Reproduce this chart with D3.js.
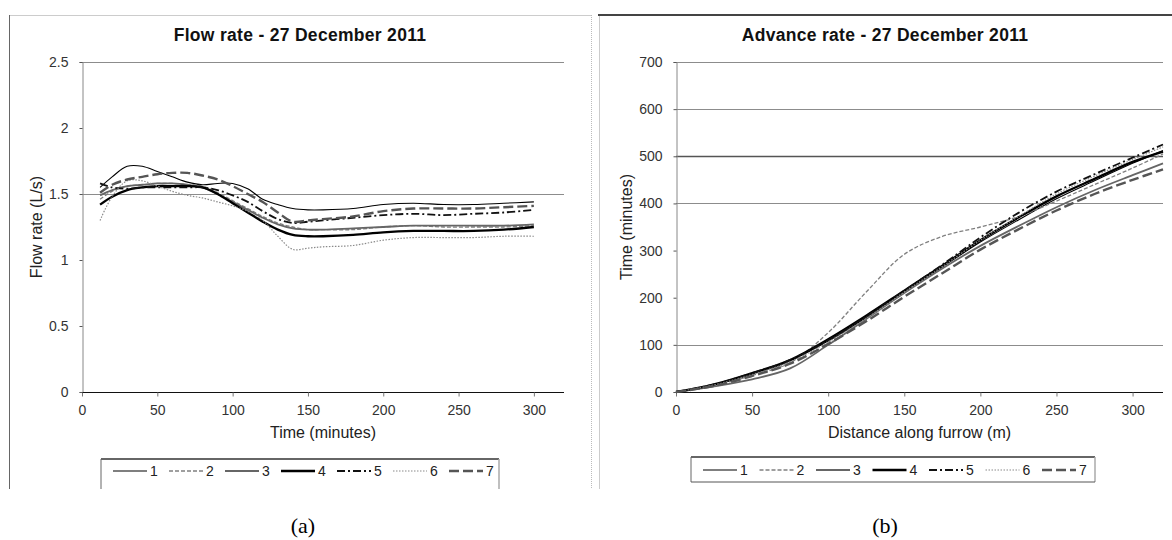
<!DOCTYPE html>
<html lang="en">
<head>
  <meta charset="UTF-8" />
  <title>Flow rate and Advance rate - 27 December 2011</title>
  <script src="https://d3js.org/d3.v7.min.js"></script>
  <style>
    html, body {
      margin: 0;
      padding: 0;
      width: 1172px;
      height: 540px;
      overflow: hidden;
      background: #ffffff;
      font-family: 'Liberation Sans', Arial, sans-serif;
    }
    svg { display: block; }
    .tick text { font-size: 14px; fill: #333; font-family: 'Liberation Sans', Arial, sans-serif; }
    .chart-title { font-size: 17.5px; font-weight: bold; fill: #111; text-anchor: middle; letter-spacing: 0.3px; }
    .axis-title { font-size: 16px; fill: #222; text-anchor: middle; }
    .legend-text { font-size: 14px; fill: #222; }
    .panel-label { font-family: 'Liberation Serif', 'Times New Roman', serif; font-size: 22px; fill: #000; text-anchor: middle; }
  </style>
</head>
<body>
<svg width="1172" height="540"></svg>
<script>
// ---- data: flow rate (a) ----
const flowTimes = [12, 20, 30, 40, 50, 60, 70, 80, 90, 100, 110, 120, 130, 140, 150, 160, 180, 200, 220, 240, 260, 280, 300];
const flow1 = [1.55, 1.63, 1.71, 1.71, 1.67, 1.63, 1.59, 1.57, 1.58, 1.58, 1.54, 1.46, 1.42, 1.39, 1.38, 1.38, 1.39, 1.42, 1.43, 1.42, 1.42, 1.43, 1.44];
const flow2 = [1.46, 1.52, 1.56, 1.57, 1.58, 1.58, 1.57, 1.56, 1.51, 1.45, 1.39, 1.33, 1.28, 1.25, 1.23, 1.23, 1.23, 1.25, 1.26, 1.25, 1.25, 1.25, 1.26];
const flow3 = [1.49, 1.53, 1.56, 1.57, 1.58, 1.58, 1.57, 1.55, 1.50, 1.44, 1.38, 1.32, 1.27, 1.24, 1.23, 1.23, 1.24, 1.25, 1.26, 1.26, 1.26, 1.26, 1.27];
const flow4 = [1.42, 1.48, 1.53, 1.55, 1.56, 1.56, 1.56, 1.55, 1.50, 1.43, 1.36, 1.29, 1.23, 1.19, 1.18, 1.18, 1.19, 1.21, 1.22, 1.22, 1.22, 1.23, 1.25];
const flow5 = [1.58, 1.55, 1.54, 1.55, 1.55, 1.55, 1.55, 1.55, 1.53, 1.49, 1.44, 1.37, 1.31, 1.28, 1.29, 1.30, 1.32, 1.34, 1.35, 1.34, 1.35, 1.36, 1.38];
const flow6 = [1.30, 1.48, 1.60, 1.60, 1.56, 1.52, 1.49, 1.47, 1.44, 1.41, 1.37, 1.30, 1.18, 1.08, 1.09, 1.10, 1.11, 1.15, 1.17, 1.17, 1.17, 1.18, 1.18];
const flow7 = [1.51, 1.57, 1.61, 1.63, 1.65, 1.66, 1.66, 1.64, 1.61, 1.56, 1.50, 1.44, 1.36, 1.29, 1.30, 1.31, 1.33, 1.37, 1.39, 1.39, 1.39, 1.40, 1.41];

// ---- data: advance rate (b) ----
const distances = [0, 25, 50, 75, 100, 125, 150, 175, 200, 225, 250, 275, 300, 320];
const adv1 = [0, 15, 38, 66, 108, 158, 212, 265, 318, 365, 410, 448, 485, 512];
const adv2 = [0, 14, 35, 62, 126, 212, 292, 330, 350, 372, 405, 440, 475, 505];
const adv3 = [0, 12, 27, 50, 100, 155, 210, 262, 310, 352, 392, 428, 460, 485];
const adv4 = [0, 16, 40, 68, 112, 162, 215, 268, 322, 370, 415, 452, 488, 510];
const adv5 = [0, 16, 40, 68, 110, 160, 215, 270, 328, 380, 425, 462, 497, 525];
const adv6 = [0, 15, 37, 64, 106, 156, 212, 266, 322, 372, 420, 458, 493, 520];
const adv7 = [0, 13, 34, 60, 102, 150, 202, 252, 302, 345, 385, 420, 450, 472];

const seriesNames = ["1", "2", "3", "4", "5", "6", "7"];
const flowTicks = [0, 0.5, 1, 1.5, 2, 2.5];
const flowGrid = [1.5, 2.5];          // only these gridlines show in the picture
const advTicks = [0, 100, 200, 300, 400, 500, 600, 700];
const advGrid = [100, 400, 500, 600, 700];
const xTicks = [0, 50, 100, 150, 200, 250, 300];

// line styles per series
const styles = [
  { color: "#000", width: 1.1, dash: null },
  { color: "#808080", width: 1.3, dash: "4,2" },
  { color: "#666", width: 1.8, dash: null },
  { color: "#000", width: 2.3, dash: null },
  { color: "#111", width: 1.8, dash: "8,3,2,3" },
  { color: "#8a8a8a", width: 1.2, dash: "1.5,1.5" },
  { color: "#555", width: 2.4, dash: "10,4" }
];

const svg = d3.select("svg");

// frames
svg.append("line").attr("x1", 9).attr("x2", 591).attr("y1", 15.5).attr("y2", 15.5).attr("stroke", "#ccc");
svg.append("line").attr("x1", 9.5).attr("x2", 9.5).attr("y1", 15).attr("y2", 489).attr("stroke", "#666");
svg.append("line").attr("x1", 591.5).attr("x2", 591.5).attr("y1", 15).attr("y2", 489).attr("stroke", "#bbb").attr("stroke-dasharray", "1,1");
svg.append("line").attr("x1", 598).attr("x2", 1172).attr("y1", 15).attr("y2", 15).attr("stroke", "#444").attr("stroke-width", 2);
svg.append("line").attr("x1", 599.5).attr("x2", 599.5).attr("y1", 16).attr("y2", 489).attr("stroke", "#ccc");

function drawChart(opt) {
  const g = svg.append("g");
  const x = d3.scaleLinear().domain([0, 320]).range([opt.left, opt.right]);
  const y = d3.scaleLinear().domain(opt.yDomain).range([392, 62]);

  // gridlines
  g.selectAll("line.grid").data(opt.grid).enter().append("line")
    .attr("class", "grid")
    .attr("x1", opt.left).attr("x2", opt.right)
    .attr("y1", d => Math.round(y(d)) + 0.5).attr("y2", d => Math.round(y(d)) + 0.5)
    .attr("stroke", d => d === opt.darkGrid ? "#555" : "#8c8c8c")
    .attr("stroke-width", d => d === opt.darkGrid ? 1.6 : 1);

  // y axis
  const ya = g.append("g").attr("transform", `translate(${opt.left + 0.5},0)`)
    .call(d3.axisLeft(y).tickValues(opt.yTicks).tickFormat(d3.format("~g")).tickSize(3).tickPadding(11));
  ya.select(".domain").attr("stroke", "#888");
  ya.selectAll(".tick line").attr("stroke", "#555");

  // x axis
  const xa = g.append("g").attr("transform", `translate(0,${392.5})`)
    .call(d3.axisBottom(x).tickValues(xTicks).tickSize(4).tickPadding(9));
  xa.select(".domain").attr("stroke", "#111").attr("d", `M${opt.left},0H${opt.right}`);
  xa.selectAll(".tick line").attr("stroke", "#777");

  // lines
  const line = d3.line()
    .x(d => x(d[0]))
    .y(d => y(d[1]))
    .curve(d3.curveCatmullRom.alpha(0.5));

  opt.series.forEach((vals, i) => {
    const pts = opt.xs.map((t, j) => [t, vals[j]]);
    const s = styles[i];
    g.append("path")
      .datum(pts)
      .attr("d", line)
      .attr("fill", "none")
      .attr("stroke", s.color)
      .attr("stroke-width", s.width)
      .attr("stroke-dasharray", s.dash);
  });

  // titles
  g.append("text").attr("class", "chart-title").attr("x", opt.titleX).attr("y", 41).text(opt.title);
  g.append("text").attr("class", "axis-title").attr("x", (opt.left + opt.right) / 2).attr("y", 438).text(opt.xTitle);
  g.append("text").attr("class", "axis-title")
    .attr("transform", `translate(${opt.yTitleX},${227}) rotate(-90)`).text(opt.yTitle);

  // legend
  const lg = g.append("g");
  lg.append("line").attr("x1", opt.legLeft).attr("x2", opt.legRight).attr("y1", opt.legTop).attr("y2", opt.legTop)
    .attr("stroke", "#333").attr("stroke-width", 1.5);
  lg.append("line").attr("x1", opt.legLeft).attr("x2", opt.legLeft).attr("y1", opt.legTop).attr("y2", opt.legBottom)
    .attr("stroke", "#666");
  lg.append("line").attr("x1", opt.legRight).attr("x2", opt.legRight).attr("y1", opt.legTop).attr("y2", opt.legBottom)
    .attr("stroke", "#aaa").attr("stroke-width", 1.5);
  if (opt.legClosed) {
    lg.append("line").attr("x1", opt.legLeft).attr("x2", opt.legRight).attr("y1", opt.legBottom).attr("y2", opt.legBottom)
      .attr("stroke", "#555");
  }
  const ly = (opt.legTop + 483) / 2;
  const item = lg.selectAll("g.item").data(seriesNames).enter().append("g")
    .attr("transform", (d, i) => `translate(${opt.legLeft + 12 + i * opt.legStep},${ly})`);
  item.append("line").attr("x1", 0).attr("x2", 34).attr("y1", 0).attr("y2", 0)
    .attr("stroke", (d, i) => styles[i].color)
    .attr("stroke-width", (d, i) => styles[i].width)
    .attr("stroke-dasharray", (d, i) => styles[i].dash);
  item.append("text").attr("class", "legend-text").attr("x", 37).attr("y", 5).text(d => d);

  g.append("text").attr("class", "panel-label").attr("x", opt.panelX).attr("y", 533).text(opt.panel);
}

drawChart({
  left: 82, right: 564, yDomain: [0, 2.5], yTicks: flowTicks, grid: flowGrid, darkGrid: null,
  xs: flowTimes, series: [flow1, flow2, flow3, flow4, flow5, flow6, flow7],
  title: "Flow rate - 27 December 2011", titleX: 300,
  xTitle: "Time (minutes)", yTitle: "Flow rate (L/s)", yTitleX: 42,
  legLeft: 101, legRight: 499, legTop: 459, legBottom: 489, legStep: 56, legClosed: false,
  panel: "(a)", panelX: 303
});

drawChart({
  left: 676, right: 1163, yDomain: [0, 700], yTicks: advTicks, grid: advGrid, darkGrid: 500,
  xs: distances, series: [adv1, adv2, adv3, adv4, adv5, adv6, adv7],
  title: "Advance rate - 27 December 2011", titleX: 885,
  xTitle: "Distance along furrow (m)", yTitle: "Time (minutes)", yTitleX: 632,
  legLeft: 691, legRight: 1095, legTop: 457, legBottom: 482, legStep: 56.5, legClosed: true,
  panel: "(b)", panelX: 885
});
</script>
</body>
</html>
